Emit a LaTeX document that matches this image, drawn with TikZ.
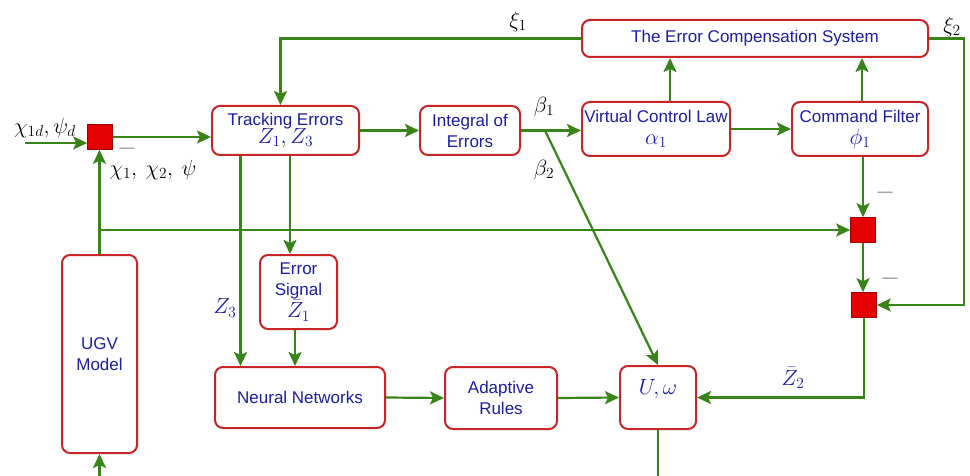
\RequirePackage{fix-cm}
\documentclass[tikz,border=0pt]{standalone}
\usepackage{fontspec}
\setmainfont{Liberation Sans}
\DeclareMathSizes{17}{22}{15.5}{11}
\usetikzlibrary{arrows.meta}
\definecolor{lg}{RGB}{56,132,24}
\definecolor{bx}{RGB}{200,38,38}
\definecolor{tx}{RGB}{28,28,165}
\definecolor{sq}{RGB}{228,0,0}
\begin{document}
\begin{tikzpicture}[x=1pt,y=-1pt,
 box/.style={draw=bx,line width=2pt,rounded corners=8pt,fill=white,text=tx,align=center,inner sep=0pt,font=\fontsize{17}{21}\selectfont},
 sqr/.style={draw=sq!70!black,line width=0.6pt,fill=sq,minimum size=25pt,inner sep=0pt},
 arr/.style={draw=lg,line width=2.2pt,-{Stealth[length=14pt,width=13pt,inset=3pt]}},
 ln/.style={draw=lg,line width=2.2pt},
 lab/.style={font=\fontsize{17}{20}\selectfont},
 blab/.style={font=\fontsize{17}{20}\selectfont,text=tx},
 mn/.style={text=gray,font=\fontsize{15}{18}\selectfont}]
\clip (0,0) rectangle (970,476);
\fill[white] (0,0) rectangle (970,476);

% boxes
\node[box,minimum width=147pt,minimum height=49pt] (te) at (285.5,130.5) {Tracking Errors\\[-3pt]$Z_1,Z_3$};
\node[box,minimum width=100pt,minimum height=49pt] (ie) at (470,130.5) {Integral of\\Errors};
\node[box,minimum width=148pt,minimum height=54pt] (vcl) at (656,129) {Virtual Control Law\\[1pt]$\alpha_1$};
\node[box,minimum width=136pt,minimum height=54pt] (cf) at (860,129) {Command Filter\\[1pt]$\phi_1$};
\node[box,minimum width=346pt,minimum height=37pt] (ecs) at (755,38.5) {The Error Compensation System};
\node[box,minimum width=77pt,minimum height=74pt] (es) at (298.5,292) {Error\\Signal\\$\bar{Z}_1$};
\node[box,minimum width=170pt,minimum height=61pt] (nn) at (300,397.5) {Neural Networks};
\node[box,minimum width=112pt,minimum height=62pt] (ar) at (501,398) {Adaptive\\Rules};
\node[box,minimum width=76pt,minimum height=63pt] (uw) at (658,397.5) {$U,\omega$\\~};
\node[box,minimum width=75pt,minimum height=198pt] (ugv) at (99.5,354) {UGV\\Model};

% summing squares
\node[sqr] (sq1) at (100,137) {};
\node[sqr] (sqA) at (863,230) {};
\node[sqr] (sqB) at (864,305) {};

% coordinates
\coordinate (in) at (25,143);
\coordinate (br) at (99.5,230);
\coordinate (bs) at (545,130.5);
\coordinate (ub) at (99.5,500);

% connectors
\draw[arr] (in) -- (in -| sq1.west);
\draw[arr] (sq1.east) -- (sq1.east -| te.west);
\draw[arr] (ugv.north) -- (ugv.north |- sq1.south);
\draw[arr] (br) -- (sqA.west);
\draw[arr] (te.east) -- (ie.west);
\draw[arr] (ie.east) -- (ie.east -| vcl.west);
\draw[arr] (bs) -- (uw.north);
\draw[arr] (vcl.east) -- (vcl.east -| cf.west);
\draw[arr] ([xshift=14pt]vcl.north) -- ([xshift=14pt]vcl.north |- ecs.south);
\draw[arr] ([xshift=2pt]cf.north) -- ([xshift=2pt]cf.north |- ecs.south);
\draw[arr] (cf.south -| sqA.north) -- (sqA.north);
\draw[arr] (sqA.south) -- (sqA.south |- sqB.north);
\draw[arr] (sqB.south) |- (uw.east);
\draw[arr] (ecs.east) -- ++(35,0) |- (sqB.east);
\draw[arr] (ecs.west) -| ([xshift=-5pt]te.north);
\draw[arr] ([xshift=-45pt]te.south) -- ([xshift=-45pt]te.south |- nn.north);
\draw[arr] ([xshift=4.5pt]te.south) -- ([xshift=4.5pt]te.south |- es.north);
\draw[arr] ([xshift=-3.5pt]es.south) -- ([xshift=-3.5pt]es.south |- nn.north);
\draw[arr] (nn.east) -- (ar.west);
\draw[arr] (ar.east) -- (uw.west);
\draw[ln] (uw.south) -- ++(0,60);
\draw[arr] (ub) -- (ugv.south);

% labels
\node[lab] (l1) at (45,128) {$\chi_{1d},\psi_d$};
\node[lab] (l2) at (153,170) {$\chi_1,\ \chi_2,\ \psi$};
\node[mn] (m1) at (127,150) {—};
\node[mn] (m2) at (885,194) {—};
\node[mn] (m3) at (890,280) {—};
\node[lab] (x1) at (518,22) {$\xi_1$};
\node[lab] (x2) at (952,27) {$\xi_2$};
\node[lab] (b1) at (544,107) {$\beta_1$};
\node[lab] (b2) at (544,170) {$\beta_2$};
\node[blab] (z3) at (225,308) {$Z_3$};
\node[blab] (z2) at (793,378) {$\bar{Z}_2$};
\end{tikzpicture}
\end{document}
